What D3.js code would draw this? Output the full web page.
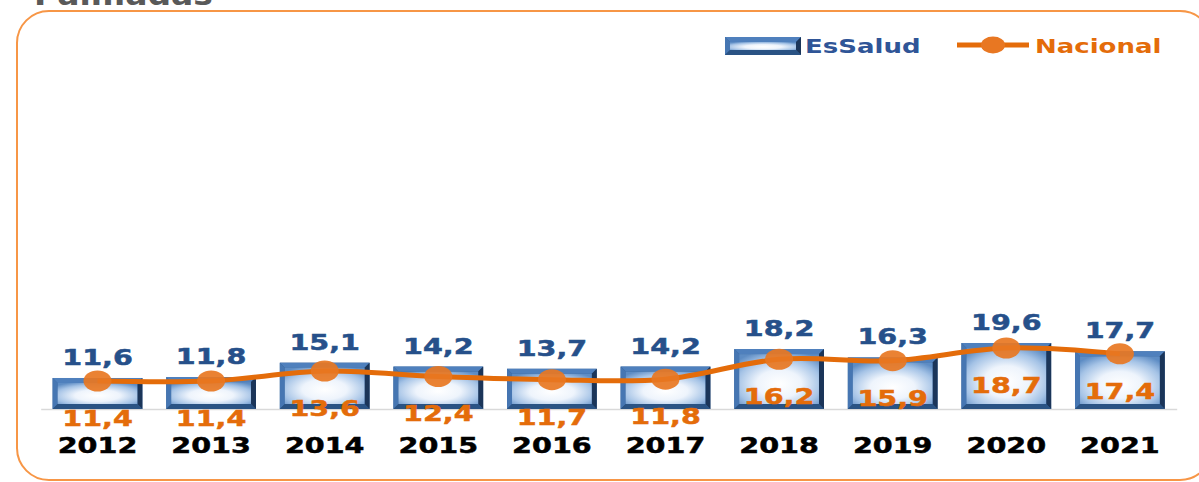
<!DOCTYPE html>
<html><head><meta charset="utf-8">
<script src="https://cdn.jsdelivr.net/npm/d3@7"></script>
<style>body{margin:0;background:#fff;overflow:hidden}</style>
</head><body>
<svg id="c" width="1199" height="482"></svg>
<script>
const years = ["2012","2013","2014","2015","2016","2017","2018","2019","2020","2021"];
const essalud = [11.6,11.8,15.1,14.2,13.7,14.2,18.2,16.3,19.6,17.7];
const nacional = [11.4,11.4,13.6,12.4,11.7,11.8,16.2,15.9,18.7,17.4];
const seriesNames = ["EsSalud","Nacional"];
const title = "Palmadas";

const svg = d3.select("#c");
const FONT = "'DejaVu Sans', Verdana, sans-serif";
const SX = 1.3;
const fmt = v => v.toFixed(1).replace(".", ",");
const BLUE_TXT = "#26508a", ORANGE = "#E46C0A";

const defs = svg.append("defs");
const rg = defs.append("radialGradient").attr("id","glow").attr("cx","50%").attr("cy","60%").attr("r","70%");
rg.append("stop").attr("offset","0%").attr("stop-color","#ffffff");
rg.append("stop").attr("offset","40%").attr("stop-color","#eef4fc");
rg.append("stop").attr("offset","75%").attr("stop-color","#a5c3e6");
rg.append("stop").attr("offset","100%").attr("stop-color","#5d8cc4");

// frame + title
svg.append("text").attr("transform","translate(34,5) scale(1.1,1)").attr("font-family",FONT)
  .attr("font-weight","bold").attr("font-size",30).attr("fill","#595959").text(title);
svg.append("rect").attr("x",17).attr("y",11).attr("width",1195).attr("height",469).attr("rx",32)
  .attr("fill","none").attr("stroke","#F79646").attr("stroke-width",2);

const x = d3.scaleBand().domain(years).range([40.7,1176.7]).paddingInner(0.21).paddingOuter(0.105);
const yB = d3.scaleLinear().domain([4.51,84.3]).range([409,60]);
const yL = d3.scaleLinear().domain([5.205,82.4]).range([409,60]);

// baseline axis
const ax = svg.append("g").attr("transform","translate(0,409)")
  .call(d3.axisBottom(x).tickSize(0).tickPadding(0));
ax.select(".domain").attr("stroke","#d9d9d9").attr("stroke-width",1.5);
ax.selectAll(".tick text").attr("font-family",FONT).attr("font-weight","bold").attr("font-size",22)
  .attr("fill","#000").attr("stroke","#000").attr("stroke-width",0.5)
  .attr("dy",null).attr("y",44).attr("transform",`scale(${SX},1)`).attr("x",0);
ax.selectAll(".tick").each(function(d){
  d3.select(this).attr("transform",`translate(${x(d)+x.bandwidth()/2},0)`);
});

// bars
function drawBar(g, x0, y0, w, h){
  const b = Math.min(5, h/3);
  g.append("rect").attr("x",x0).attr("y",y0).attr("width",w).attr("height",h).attr("fill","#2f5c93");
  g.append("polygon").attr("points",[[x0,y0],[x0+w,y0],[x0+w-b,y0+b],[x0+b,y0+b]].join(" ")).attr("fill","#4f80bd");
  g.append("polygon").attr("points",[[x0,y0],[x0+b,y0+b],[x0+b,y0+h-b],[x0,y0+h]].join(" ")).attr("fill","#4676b2");
  g.append("polygon").attr("points",[[x0+w,y0],[x0+w,y0+h],[x0+w-b,y0+h-b],[x0+w-b,y0+b]].join(" ")).attr("fill","#1b3559");
  g.append("polygon").attr("points",[[x0,y0+h],[x0+b,y0+h-b],[x0+w-b,y0+h-b],[x0+w,y0+h]].join(" ")).attr("fill","#2a5384");
  g.append("rect").attr("x",x0+b).attr("y",y0+b).attr("width",w-2*b).attr("height",h-2*b).attr("fill","url(#glow)");
}
const bars = svg.append("g");
years.forEach((yr,i)=>{
  const top = yB(essalud[i]);
  drawBar(bars.append("g"), x(yr), top, x.bandwidth(), yB.range()[0]-top);
});

// bar labels
svg.append("g").selectAll("text").data(years).join("text")
  .attr("transform",(d,i)=>`translate(${x(d)+x.bandwidth()/2},${yB(essalud[i])-13}) scale(${SX},1)`)
  .attr("text-anchor","middle").attr("font-family",FONT).attr("font-weight","bold").attr("font-size",22)
  .attr("fill",BLUE_TXT).attr("stroke",BLUE_TXT).attr("stroke-width",0.5).text((d,i)=>fmt(essalud[i]));

// line
const line = d3.line().x((d,i)=>x(years[i])+x.bandwidth()/2).y(d=>yL(d)).curve(d3.curveCatmullRom.alpha(0.5));
svg.append("path").datum(nacional).attr("d",line).attr("fill","none").attr("stroke",ORANGE).attr("stroke-width",5);
svg.append("g").selectAll("ellipse").data(nacional).join("ellipse")
  .attr("cx",(d,i)=>x(years[i])+x.bandwidth()/2).attr("cy",d=>yL(d)).attr("rx",14).attr("ry",10.5)
  .attr("fill","#E87722").attr("opacity",0.92);
svg.append("g").selectAll("text").data(nacional).join("text")
  .attr("transform",(d,i)=>`translate(${x(years[i])+x.bandwidth()/2},${yL(d)+45}) scale(${SX},1)`)
  .attr("text-anchor","middle").attr("font-family",FONT).attr("font-weight","bold").attr("font-size",22)
  .attr("fill",ORANGE).attr("stroke",ORANGE).attr("stroke-width",0.5).text(d=>fmt(d));

// legend
const lg = svg.append("g");
drawBar(lg.append("g"), 725, 37, 76, 18);
lg.append("text").attr("transform",`translate(805,53) scale(1.3,1)`).attr("font-family",FONT).attr("font-weight","bold")
  .attr("font-size",20).attr("fill","#2f5597").text(seriesNames[0]);
lg.append("line").attr("x1",957).attr("x2",1029).attr("y1",45).attr("y2",45).attr("stroke",ORANGE).attr("stroke-width",5);
lg.append("ellipse").attr("cx",993).attr("cy",45).attr("rx",12).attr("ry",8.5).attr("fill","#E87722");
lg.append("text").attr("transform",`translate(1035,53) scale(1.3,1)`).attr("font-family",FONT).attr("font-weight","bold")
  .attr("font-size",20).attr("fill",ORANGE).text(seriesNames[1]);
</script>
</body></html>
